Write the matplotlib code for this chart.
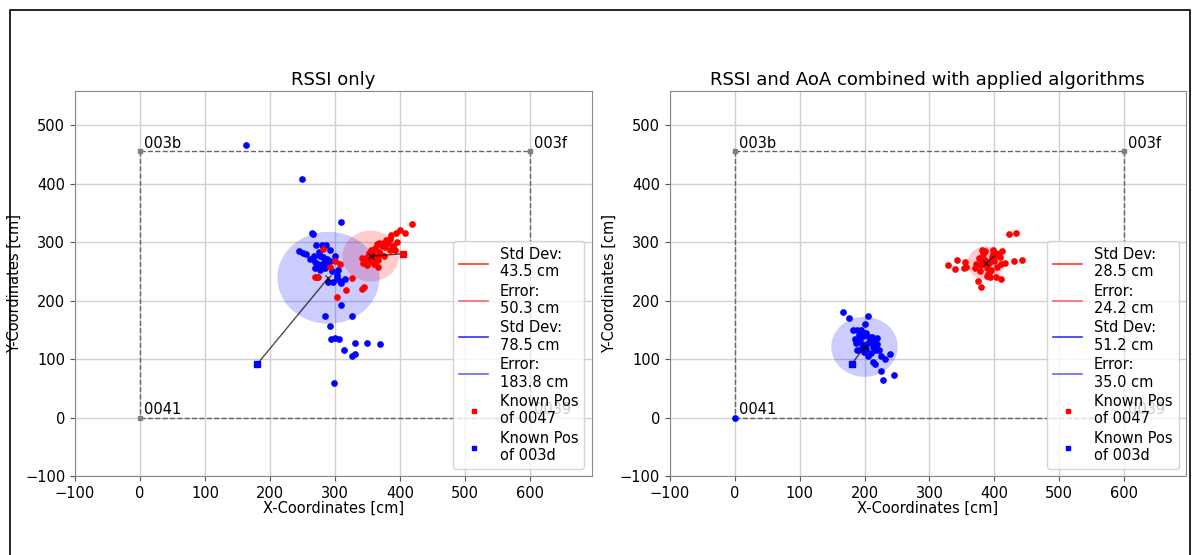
import matplotlib.pyplot as plt
from matplotlib.patches import Circle, Rectangle
from matplotlib.lines import Line2D

# anchors (cm)
anchor_names = ["003b", "003f", "0041", "0039"]
anchor_x = [0, 600, 0, 600]
anchor_y = [455, 455, 0, 0]

known_0047 = (405, 280)
known_003d = (180, 91)

# RSSI only
red1_x = [419, 408, 400, 394, 387, 384, 379, 395, 374, 382, 368, 364, 372, 377, 389, 361, 384, 392,
          356, 368, 359, 351, 364, 354, 341, 361, 346, 367, 356, 343, 326, 300, 308, 292, 282, 274,
          270, 344, 341, 317, 303, 370, 352, 376, 360, 366, 349]
red1_y = [331, 316, 321, 316, 312, 306, 303, 300, 299, 298, 299, 297, 293, 291, 293, 290, 286, 287,
          286, 283, 279, 277, 274, 272, 272, 270, 268, 270, 267, 265, 239, 267, 263, 258, 288, 241,
          241, 223, 220, 218, 206, 280, 281, 276, 262, 258, 260]
blue1_x = [163, 249, 309, 264, 266, 271, 280, 286, 245, 251, 256, 262, 277, 282, 287, 292, 300, 274,
           279, 284, 289, 269, 277, 304, 303, 273, 303, 308, 315, 310, 290, 297, 310, 284, 326, 292,
           294, 300, 306, 314, 331, 349, 370, 326, 331, 299, 270, 283, 275, 268, 293, 296]
blue1_y = [465, 407, 335, 316, 313, 295, 295, 295, 284, 281, 279, 271, 277, 274, 271, 268, 277, 263,
           260, 256, 260, 256, 253, 253, 244, 241, 238, 234, 237, 230, 231, 231, 193, 173, 174, 156,
           135, 136, 135, 116, 128, 128, 125, 106, 109, 59, 266, 266, 283, 276, 286, 250]

# RSSI and AoA combined
red2_x = [423, 433, 329, 342, 339, 355, 353, 357, 381, 398, 412, 431, 442, 375, 379, 410, 394, 402,
          417, 392, 385, 380, 388, 396, 404, 378, 383, 390, 399, 408, 372, 386, 393, 381, 403, 376,
          395, 388, 370, 410, 384, 398]
red2_y = [314, 315, 261, 270, 254, 266, 255, 258, 287, 287, 284, 268, 270, 233, 224, 237, 240, 240,
          264, 265, 270, 260, 255, 275, 258, 250, 280, 245, 268, 275, 262, 285, 250, 268, 278, 272,
          252, 242, 256, 262, 264, 279]
blue2_x = [167, 176, 206, 200, 182, 188, 194, 185, 187, 193, 211, 220, 206, 213, 217, 223, 189, 194,
           226, 232, 240, 213, 216, 225, 245, 229, 0, 198, 203, 208, 201, 196, 210, 215, 205, 192,
           219, 199, 207, 212, 202]
blue2_y = [181, 170, 173, 160, 149, 149, 149, 134, 127, 134, 137, 136, 127, 121, 115, 115, 115, 118,
           106, 100, 109, 95, 91, 79, 73, 65, 0, 140, 145, 130, 120, 125, 110, 128, 105, 142, 125,
           112, 137, 132, 118]

# mean estimate, std dev, error
red1_mean = (355, 276)
blue1_mean = (290, 239)
red2_mean = (387, 264)
blue2_mean = (200, 121)
stats1 = ["43.5", "50.3", "78.5", "183.8"]
stats2 = ["28.5", "24.2", "51.2", "35.0"]

titles = ["RSSI only", "RSSI and AoA combined with applied algorithms"]

fig = plt.figure(figsize=(11.96, 5.55), dpi=100)
fig.patches.append(Rectangle((10 / 1196, -0.05), 1180 / 1196, 1.05 - 10 / 555,
                             transform=fig.transFigure, fill=False, edgecolor='black',
                             linewidth=1.2))

ax1 = fig.add_axes([0.0627, 0.142, 0.432, 0.694])
ax2 = fig.add_axes([0.560, 0.142, 0.4315, 0.694])

panels = [
    (ax1, red1_x, red1_y, blue1_x, blue1_y, red1_mean, blue1_mean, stats1),
    (ax2, red2_x, red2_y, blue2_x, blue2_y, red2_mean, blue2_mean, stats2),
]

for i, (ax, rx, ry, bx, by, rm, bm, st) in enumerate(panels):
    ax.grid(True, color='#d0d0d0', linewidth=1)
    ax.set_axisbelow(True)
    # room outline
    ax.plot([anchor_x[0], anchor_x[1]], [anchor_y[0], anchor_y[1]], '--', color='#666666', lw=1)
    ax.plot([anchor_x[0], anchor_x[2]], [anchor_y[0], anchor_y[2]], '--', color='#666666', lw=1)
    ax.plot([anchor_x[1], anchor_x[3]], [anchor_y[1], anchor_y[3]], '--', color='#666666', lw=1)
    ax.plot([anchor_x[2], anchor_x[3]], [anchor_y[2], anchor_y[3]], '--', color='#666666', lw=1)
    ax.plot(anchor_x, anchor_y, 's', color='gray', markersize=3.5, linestyle='none')
    for n, ax_x, ax_y in zip(anchor_names, anchor_x, anchor_y):
        ax.text(ax_x + 6, ax_y + 6, n, fontsize=10.5, color='black', zorder=1)

    ax.add_patch(Circle(rm, float(st[0]), color='red', alpha=0.2, lw=0))
    ax.add_patch(Circle(bm, float(st[2]), color='blue', alpha=0.2, lw=0))

    ax.plot(bx, by, 'o', color='blue', markersize=3.8, linestyle='none')
    ax.plot(rx, ry, 'o', color='red', markersize=3.8, linestyle='none')

    ax.plot([rm[0], known_0047[0]], [rm[1], known_0047[1]], color='black', lw=1, alpha=0.7)
    ax.plot([bm[0], known_003d[0]], [bm[1], known_003d[1]], color='black', lw=1, alpha=0.7)
    ax.plot([rm[0], bm[0]], [rm[1], bm[1]], 'x', color='black', markersize=5, alpha=0.7,
            linestyle='none')
    ax.plot(known_0047[0], known_0047[1], 's', color='red', markersize=4)
    ax.plot(known_003d[0], known_003d[1], 's', color='blue', markersize=4)

    handles = [
        Line2D([], [], color='red', lw=1.2, alpha=0.8),
        Line2D([], [], color='red', lw=1.2, alpha=0.6),
        Line2D([], [], color='blue', lw=1.2, alpha=0.8),
        Line2D([], [], color='blue', lw=1.2, alpha=0.6),
        Line2D([], [], color='red', marker='s', markersize=3, linestyle='none'),
        Line2D([], [], color='blue', marker='s', markersize=3, linestyle='none'),
    ]
    labels = ["Std Dev:\n" + st[0] + " cm", "Error:\n" + st[1] + " cm",
              "Std Dev:\n" + st[2] + " cm", "Error:\n" + st[3] + " cm",
              "Known Pos\nof 0047", "Known Pos\nof 003d"]
    ax.legend(handles, labels, loc='lower right', fontsize=10.5, handlelength=2,
              labelspacing=0.3, borderaxespad=0.5)

    ax.set_xlim(-100, 695)
    ax.set_ylim(-100, 558)
    ax.set_xticks(range(-100, 700, 100))
    ax.set_yticks(range(-100, 600, 100))
    ax.tick_params(labelsize=10.5, colors='#555555', labelcolor='black')
    for s in ax.spines.values():
        s.set_color('#888888')
    ax.set_xlabel("X-Coordinates [cm]", fontsize=10.5, labelpad=0)
    ax.set_ylabel("Y-Coordinates [cm]", fontsize=10.5, labelpad=2)
    ax.set_title(titles[i], fontsize=13, pad=4)

fig.savefig("out.png", dpi=100)
